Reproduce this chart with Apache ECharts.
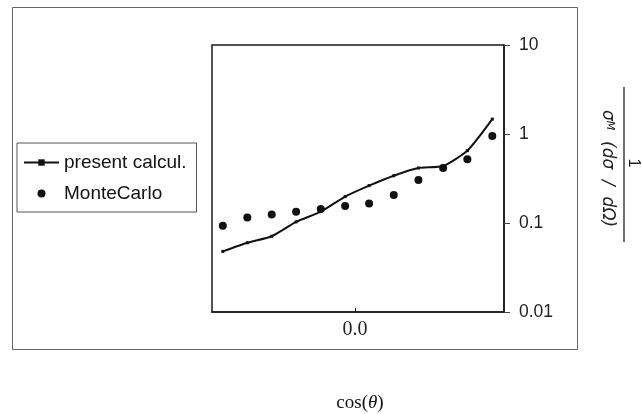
<!DOCTYPE html>
<html>
<head>
<meta charset="utf-8">
<script src="https://cdn.jsdelivr.net/npm/echarts@6/dist/echarts.min.js"></script>
<style>html,body{margin:0;padding:0;background:#fff;}#c{width:642px;height:414px;}</style>
</head>
<body>
<div id="c"></div>
<script>
// ---- data ----
const cosTheta = [-0.906, -0.738, -0.571, -0.404, -0.235, -0.068, 0.096, 0.265, 0.434, 0.603, 0.769, 0.940];
const presentCalcul = [0.048, 0.060, 0.071, 0.103, 0.134, 0.198, 0.263, 0.340, 0.415, 0.437, 0.650, 1.47];
const monteCarlo = [0.093, 0.115, 0.125, 0.134, 0.144, 0.155, 0.166, 0.206, 0.304, 0.415, 0.519, 0.95];
const yTickLabels = ['0.01', '0.1', '1', '10'];
const yTickValues = [0.01, 0.1, 1, 10];
const xTickValues = [0];
const xTickLabels = ['0.0'];
const seriesNames = ['present calcul.', 'MonteCarlo'];

const chart = echarts.init(document.getElementById('c'), null, {renderer: 'canvas'});
const ink = '#1a1a1a';
const option = {
  animation: false,
  backgroundColor: '#fff',
  grid: {left: 212, right: 138, top: 45, bottom: 102, show: true, borderColor: ink, borderWidth: 1.5, containLabel: false},
  xAxis: {
    type: 'value', min: -0.98, max: 1.02,
    axisLine: {show: true, onZero: false, lineStyle: {color: ink, width: 1.5}},
    splitLine: {show: false},
    axisTick: {show: true, inside: true, length: 4, customValues: xTickValues, lineStyle: {color: ink}},
    axisLabel: {
      customValues: xTickValues,
      formatter: function (v) { const i = xTickValues.indexOf(v); return i >= 0 ? xTickLabels[i] : ''; },
      fontFamily: 'Liberation Serif', fontSize: 20, color: '#222', margin: 8
    }
  },
  yAxis: {
    type: 'log', logBase: 10, min: 0.01, max: 10, position: 'right',
    axisLine: {show: true, onZero: false, lineStyle: {color: ink, width: 1.5}},
    axisTick: {show: true, inside: false, length: 6, lineStyle: {color: '#444'}},
    minorTick: {show: false},
    splitLine: {show: false},
    axisLabel: {
      margin: 15, fontFamily: 'Liberation Sans', fontSize: 17.5, color: '#222',
      formatter: function (v) {
        let best = 0, d = Infinity;
        yTickValues.forEach(function (t, i) { const dd = Math.abs(Math.log10(t) - Math.log10(v)); if (dd < d) { d = dd; best = i; } });
        return yTickLabels[best];
      }
    }
  },
  legend: {
    orient: 'vertical', left: 17, top: 143,
    padding: [10, 10, 9, 6], itemGap: 12, itemWidth: 35, itemHeight: 8,
    borderColor: '#555', borderWidth: 1, backgroundColor: '#fff',
    textStyle: {fontFamily: 'Liberation Sans', fontSize: 19, color: '#111'},
    data: seriesNames
  },
  series: [
    {
      name: seriesNames[0], type: 'line',
      data: cosTheta.map(function (x, i) { return [x, presentCalcul[i]]; }),
      smooth: 0.2, symbol: 'rect', symbolSize: 3, showSymbol: true,
      lineStyle: {color: '#111', width: 2}, itemStyle: {color: '#111'}
    },
    {
      name: seriesNames[1], type: 'scatter',
      data: cosTheta.map(function (x, i) { return [x, monteCarlo[i]]; }),
      symbol: 'circle', symbolSize: 8, itemStyle: {color: '#111', opacity: 1}
    }
  ],
  graphic: [
    {type: 'rect', shape: {x: 12.5, y: 7.5, width: 565, height: 342}, style: {fill: 'none', stroke: '#666', lineWidth: 1}, silent: true, z: -1},
    {
      type: 'text', x: 360, y: 403,
      style: {
        text: '{a|cos(}{i|θ}{a|)}', align: 'center', verticalAlign: 'middle',
        rich: {a: {fontFamily: 'Liberation Serif', fontSize: 19, fill: '#111'}, i: {fontFamily: 'Liberation Serif', fontStyle: 'italic', fontSize: 19, fill: '#111'}}
      }
    },
    {
      type: 'group', x: 624, y: 165, rotation: -Math.PI / 2,
      children: [
        {type: 'line', shape: {x1: -78, y1: 0, x2: 77, y2: 0}, style: {stroke: '#222', lineWidth: 1.3}},
        {type: 'text', x: -2, y: -9, style: {text: '1', align: 'center', verticalAlign: 'middle', fontFamily: 'Liberation Sans', fontSize: 16, fill: '#222'}},
        {
          type: 'text', x: -55, y: 17,
          style: {
            text: '{s|σ}{m|M}{s|  (dσ  /  dΩ)}', align: 'left', verticalAlign: 'middle',
            rich: {
              s: {fontFamily: 'DejaVu Sans', fontStyle: 'italic', fontSize: 17, fill: '#222'},
              m: {fontFamily: 'DejaVu Sans', fontStyle: 'italic', fontSize: 11, fill: '#222', verticalAlign: 'top'}
            }
          }
        }
      ]
    }
  ]
};
chart.setOption(option);
</script>
</body>
</html>
